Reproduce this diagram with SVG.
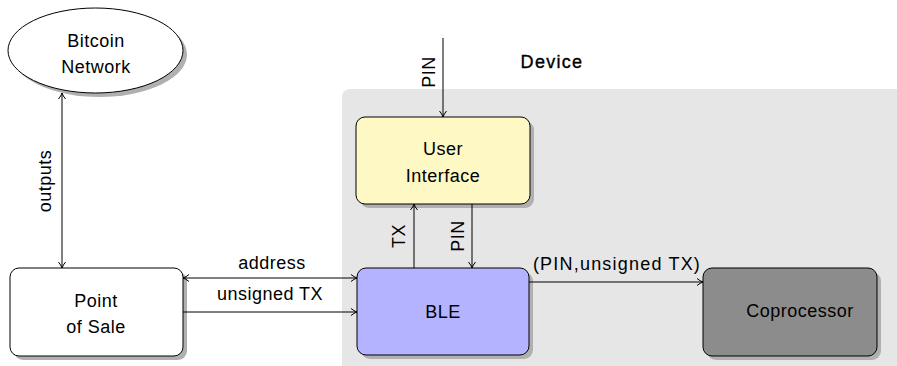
<svg xmlns="http://www.w3.org/2000/svg" width="897" height="366" viewBox="0 0 897 366">
  <defs>
    <marker id="arrow" viewBox="0 0 10 10" refX="9" refY="5" markerWidth="10" markerHeight="10" markerUnits="userSpaceOnUse" orient="auto-start-reverse">
      <path d="M3,1.5 Q6,4 9,5 Q6,6 3,8.5" fill="none" stroke="#000" stroke-width="1"/>
    </marker>
  </defs>
  <style>
    text { font-family: "Liberation Sans", "DejaVu Sans", sans-serif; font-size: 18px; letter-spacing: 0.5px; fill: #000; text-anchor: middle; }
    .shadow { fill: #b0b0b0; stroke: none; }
    .node { stroke: #000; stroke-width: 1; }
    .edge { stroke: #000; stroke-width: 1; fill: none; }
  </style>

  <rect width="897" height="366" fill="#ffffff"/>

  <!-- device enclosure -->
  <g id="device">
    <rect x="342" y="89" width="570" height="300" rx="8" fill="#e6e6e6"/>
    <text x="552" y="68" stroke="#000" stroke-width="0.35" style="letter-spacing:1.3px">Device</text>
  </g>

  <g id="bitcoin-network">
    <ellipse class="shadow" cx="99.5" cy="54.5" rx="87.5" ry="42.5"/>
    <ellipse class="node" cx="95.5" cy="50.5" rx="87.5" ry="42.5" fill="#ffffff"/>
    <text x="96" y="47">Bitcoin</text>
    <text x="96" y="73">Network</text>
  </g>

  <g id="point-of-sale">
    <rect class="shadow" x="14" y="272" width="173" height="88" rx="9"/>
    <rect class="node" x="10" y="268" width="173" height="88" rx="9" fill="#ffffff"/>
    <text x="96" y="307">Point</text>
    <text x="96" y="333">of Sale</text>
  </g>

  <g id="user-interface">
    <rect class="shadow" x="360" y="121" width="174" height="87" rx="9"/>
    <rect class="node" x="356" y="117" width="174" height="87" rx="9" fill="#fdf8c4"/>
    <text x="443" y="155">User</text>
    <text x="443" y="182">Interface</text>
  </g>

  <g id="ble">
    <rect class="shadow" x="361" y="272" width="172" height="87" rx="9"/>
    <rect class="node" x="357" y="268" width="172" height="87" rx="9" fill="#b3b3ff"/>
    <text x="443" y="318">BLE</text>
  </g>

  <g id="coprocessor">
    <rect class="shadow" x="707" y="272" width="174" height="88" rx="9"/>
    <rect class="node" x="703" y="268" width="174" height="88" rx="9" fill="#8c8c8c"/>
    <text x="800" y="317">Coprocessor</text>
  </g>

  <g id="connectors">
    <!-- outputs: Bitcoin Network <-> Point of Sale -->
    <line class="edge" x1="62" y1="93" x2="62" y2="268" marker-start="url(#arrow)" marker-end="url(#arrow)"/>
    <text transform="translate(51,181) rotate(-90)">outputs</text>

    <!-- PIN entered on the device -->
    <line class="edge" x1="443" y1="38" x2="443" y2="117" marker-end="url(#arrow)"/>
    <text transform="translate(435,72) rotate(-90)">PIN</text>

    <!-- TX: BLE -> User Interface -->
    <line class="edge" x1="414" y1="268" x2="414" y2="204" marker-end="url(#arrow)"/>
    <text transform="translate(405,236) rotate(-90)">TX</text>

    <!-- PIN: User Interface -> BLE -->
    <line class="edge" x1="472" y1="204" x2="472" y2="268" marker-end="url(#arrow)"/>
    <text transform="translate(464,236) rotate(-90)">PIN</text>

    <!-- address: Point of Sale <-> BLE -->
    <line class="edge" x1="183" y1="278" x2="357" y2="278" marker-start="url(#arrow)" marker-end="url(#arrow)"/>
    <text x="272" y="269">address</text>

    <!-- unsigned TX: Point of Sale -> BLE -->
    <line class="edge" x1="183" y1="312" x2="357" y2="312" marker-end="url(#arrow)"/>
    <text x="270" y="300">unsigned TX</text>

    <!-- (PIN,unsigned TX): BLE -> Coprocessor -->
    <line class="edge" x1="529" y1="282" x2="703" y2="282" marker-end="url(#arrow)"/>
    <text x="617" y="270" style="letter-spacing:1.2px">(PIN,unsigned TX)</text>
  </g>
</svg>
